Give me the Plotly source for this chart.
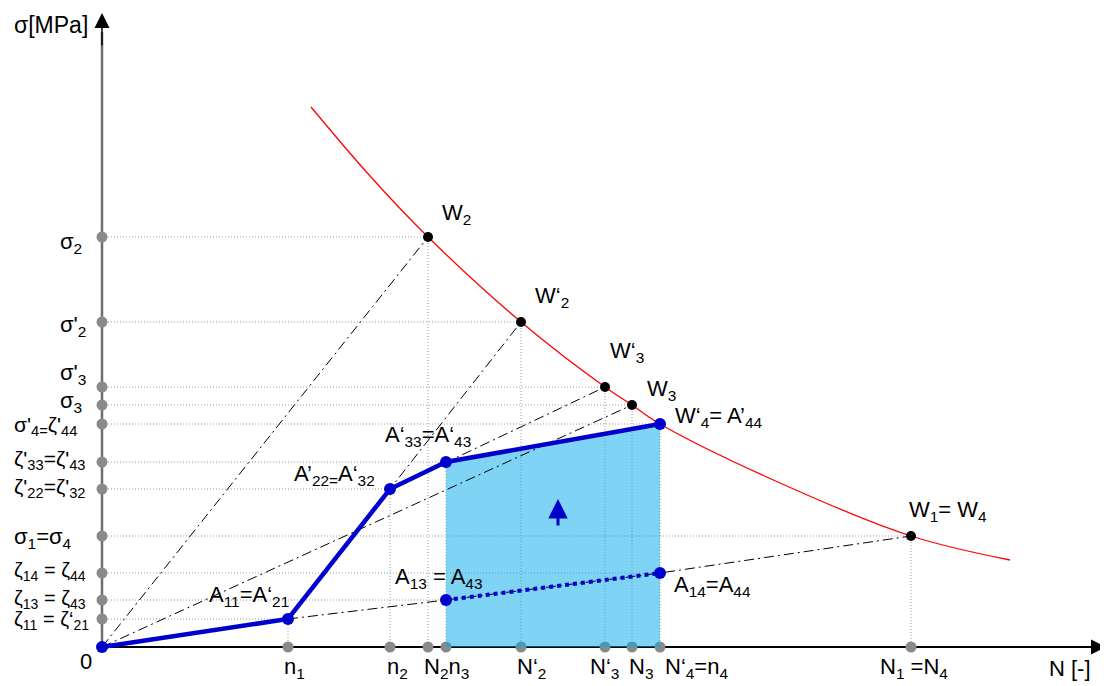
import plotly.graph_objects as go

# ---------------- data (chart units: N to the right, sigma upwards) ----------------
# points on the N axis (gray dots) and the sigma level of the point above each
x_dot_N = [186, 288, 326, 344, 419, 503, 530, 558, 809]
x_dot_top = [28, 158, 410, 185, 325, 260, 242, 223, 111]

# levels on the sigma axis (gray dots) and the N of the point right of each
y_dot_S = [410, 325, 260, 242, 223, 185, 158, 111, 74, 47, 28]
y_dot_right = [326, 419, 503, 530, 558, 344, 288, 809, 558, 344, 186]

# S-N (Woehler) curve
curve_N = [209, 268, 326, 419, 503, 530, 558, 678, 809, 908]
curve_S = [540, 471, 410, 325, 260, 242, 223, 164, 111, 87]

# black points on the curve: W2, W'2, W'3, W3, W1=W4
woehler_N = [326, 419, 503, 530, 809]
woehler_S = [410, 325, 260, 242, 111]

# damage path (blue): 0, A11, A'22, A'33, W'4
path_N = [0, 186, 288, 344, 558]
path_S = [0, 28, 158, 185, 223]

# dotted path A13 -> A14
dotted_N = [344, 558]
dotted_S = [47, 74]

# dash-dot construction lines
dd_lines = [
    ([0, 326], [0, 410]),            # 0 -> W2
    ([186, 419], [28, 325]),         # A11 -> W'2
    ([288, 503], [158, 260]),        # A'22 -> W'3
    ([0, 530], [0, 242]),            # 0 -> W3
    ([186, 344, 558, 809], [28, 47, 74, 111]),  # A11 -> A13 -> A14 -> W1
]

y_labels = ["σ<sub>2</sub>", "σ'<sub>2</sub>", "σ'<sub>3</sub>", "σ<sub>3</sub>",
            "σ'<sub>4=</sub>ζ'<sub>44</sub>", "ζ'<sub>33</sub>=ζ'<sub>43</sub>",
            "ζ'<sub>22</sub>=ζ'<sub>32</sub>", "σ<sub>1</sub>=σ<sub>4</sub>",
            "ζ<sub>14</sub> = ζ<sub>44</sub>", "ζ<sub>13</sub> = ζ<sub>43</sub>",
            "ζ<sub>11</sub> = ζ‘<sub>21</sub>", "0"]
x_labels = ["n<sub>1</sub>", "n<sub>2</sub>", "N<sub>2</sub>n<sub>3</sub>", "N‘<sub>2</sub>",
            "N‘<sub>3</sub>", "N<sub>3</sub>", "N‘<sub>4</sub>=n<sub>4</sub>",
            "N<sub>1</sub> =N<sub>4</sub>", "N [-]"]
point_labels = ["W<sub>2</sub>", "W‘<sub>2</sub>", "W‘<sub>3</sub>", "W<sub>3</sub>",
                "W‘<sub>4</sub>= A’<sub>44</sub>", "W<sub>1</sub>= W<sub>4</sub>",
                "A<sub>14</sub>=A<sub>44</sub>", "A<sub>13</sub> = A<sub>43</sub>",
                "A‘<sub>33</sub>=A‘<sub>43</sub>", "A’<sub>22=</sub>A‘<sub>32</sub>",
                "A<sub>11</sub>=A‘<sub>21</sub>"]

# ---------------- label placement (layout) ----------------
y_label_pos = [(-44, 404), (-44, 321), (-44, 273), (-44, 245), (-90, 221), (-90, 187),
               (-90, 159), (-90, 109), (-90, 76), (-90, 48), (-90, 27), (-24, -14)]
y_label_size = [22, 22, 22, 22, 21, 21, 21, 22, 20, 20, 20, 22]
x_label_pos = [(180, -21), (283, -21), (320, -21), (413, -21), (486, -21), (525, -21),
               (561, -21), (776, -21), (945, -21)]
point_label_pos = [(338, 433), (431, 350), (506, 295), (543, 257), (571, 230), (805, 136),
                   (570, 61), (291, 69), (281, 211), (190, 172), (105, 51)]

BLUE = "#0000CC"
GRAY = "#8a8a8a"
FONT = "Arial, Liberation Sans, sans-serif"
FS = 22

fig = go.Figure()

# gridlines (gray dotted)
gx, gy = [], []
for S, Nr in zip(y_dot_S, y_dot_right):
    gx += [0, Nr, None]
    gy += [S, S, None]
for N, St in zip(x_dot_N, x_dot_top):
    gx += [N, N, None]
    gy += [St, 0, None]
fig.add_trace(go.Scatter(x=gx, y=gy, mode="lines",
                         line=dict(color="#9a9a9a", width=1, dash="1px,2px"),
                         hoverinfo="skip"))

# y axis (gray) and x axis (black)
fig.add_trace(go.Scatter(x=[0, 0], y=[0, 615], mode="lines",
                         line=dict(color="#6e6e6e", width=2.5), hoverinfo="skip"))
fig.add_trace(go.Scatter(x=[0, 995], y=[0, 0], mode="lines",
                         line=dict(color="black", width=2), hoverinfo="skip"))

# gray dots on axes
fig.add_trace(go.Scatter(x=x_dot_N, y=[0] * len(x_dot_N), mode="markers",
                         marker=dict(color=GRAY, size=11), hoverinfo="skip"))
fig.add_trace(go.Scatter(x=[0] * len(y_dot_S), y=y_dot_S, mode="markers",
                         marker=dict(color=GRAY, size=11), hoverinfo="skip"))

# filled area under the blue path from n3 to n4
fill_N = [path_N[3]] + path_N[3:] + [path_N[-1]]
fill_S = [0] + path_S[3:] + [0]
fig.add_trace(go.Scatter(x=fill_N, y=fill_S, mode="lines", fill="toself",
                         fillcolor="rgba(0,168,235,0.5)", line=dict(width=0),
                         hoverinfo="skip"))

# dash-dot construction lines
for xs, ys in dd_lines:
    fig.add_trace(go.Scatter(x=xs, y=ys, mode="lines",
                             line=dict(color="black", width=1, dash="10px,4px,2px,4px"),
                             hoverinfo="skip"))

# Woehler curve
fig.add_trace(go.Scatter(x=curve_N, y=curve_S, mode="lines",
                         line=dict(color="red", width=1.3, shape="spline", smoothing=1.0),
                         hoverinfo="skip"))

# blue paths
fig.add_trace(go.Scatter(x=dotted_N, y=dotted_S, mode="lines+markers",
                         line=dict(color=BLUE, width=4, dash="dot"),
                         marker=dict(color=BLUE, size=12), hoverinfo="skip"))
fig.add_trace(go.Scatter(x=path_N, y=path_S, mode="lines+markers",
                         line=dict(color=BLUE, width=4.5),
                         marker=dict(color=BLUE, size=12), hoverinfo="skip"))

# black points
fig.add_trace(go.Scatter(x=woehler_N, y=woehler_S, mode="markers",
                         marker=dict(color="black", size=10), hoverinfo="skip"))

annotations = []
for txt, (x, y), fs in zip(y_labels, y_label_pos, y_label_size):
    annotations.append(dict(x=x, y=y, text=txt, showarrow=False, xanchor="left",
                            yanchor="middle", font=dict(size=fs, color="black", family=FONT)))
for txt, (x, y) in zip(x_labels + point_labels, x_label_pos + point_label_pos):
    annotations.append(dict(x=x, y=y, text=txt, showarrow=False, xanchor="left",
                            yanchor="middle", font=dict(size=FS, color="black", family=FONT)))
annotations.append(dict(x=-90, y=622, text="σ[MPa]", showarrow=False, xanchor="left",
                        yanchor="middle", font=dict(size=23, color="black", family=FONT)))
# axis arrow heads
annotations.append(dict(x=0, y=634, ax=0, ay=600, axref="x", ayref="y", xref="x", yref="y",
                        showarrow=True, arrowhead=2, arrowsize=2, arrowwidth=1.5,
                        arrowcolor="black", text=""))
annotations.append(dict(x=1004, y=0, ax=980, ay=0, axref="x", ayref="y", xref="x", yref="y",
                        showarrow=True, arrowhead=2, arrowsize=2, arrowwidth=1.5,
                        arrowcolor="black", text=""))
# blue arrow in the shaded area
annotations.append(dict(x=456, y=148, ax=456, ay=120, axref="x", ayref="y", xref="x", yref="y",
                        showarrow=True, arrowhead=2, arrowsize=1.3, arrowwidth=3,
                        arrowcolor=BLUE, text=""))

# the page body has an 8px margin, so the figure is 8px smaller and starts at (8, 8)
fig.update_layout(
    width=1100, height=678,
    margin=dict(l=0, r=0, t=0, b=0),
    paper_bgcolor="white", plot_bgcolor="white",
    showlegend=False,
    xaxis=dict(range=[-94, 1006], visible=False, fixedrange=True),
    yaxis=dict(range=[-39, 639], visible=False, fixedrange=True),
    annotations=annotations,
)

fig.write_html("out.html")
